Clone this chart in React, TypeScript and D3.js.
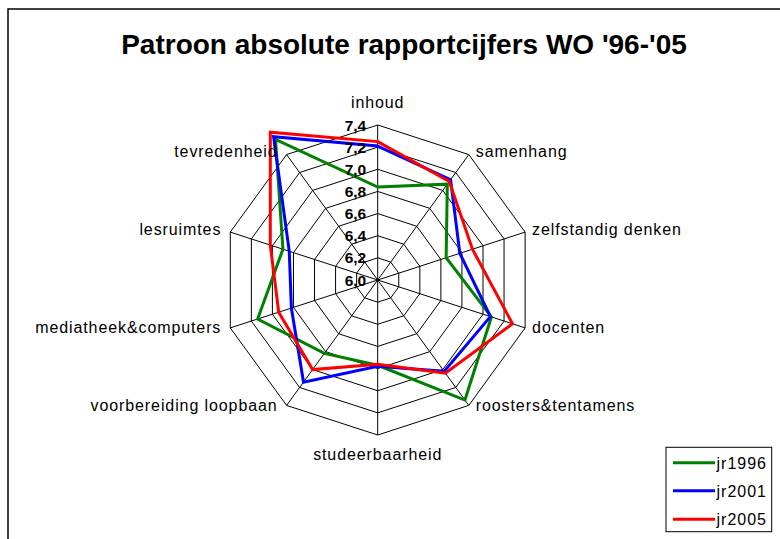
import React from "react";
import * as d3 from "d3";

const categories = [
  "inhoud",
  "samenhang",
  "zelfstandig denken",
  "docenten",
  "roosters&tentamens",
  "studeerbaarheid",
  "voorbereiding loopbaan",
  "mediatheek&computers",
  "lesruimtes",
  "tevredenheid",
];
const jr1996 = [6.84, 7.07, 6.65, 7.08, 7.34, 6.77, 6.82, 7.14, 6.9, 7.57];
const jr2001 = [7.21, 7.12, 6.78, 7.07, 7.02, 6.78, 7.14, 6.82, 6.84, 7.6];
const jr2005 = [7.25, 7.1, 6.9, 7.28, 7.04, 6.76, 7.0, 6.94, 7.02, 7.65];
const seriesNames = ["jr1996", "jr2001", "jr2005"];
const seriesColors = ["#008000", "#0000FF", "#FF0000"];
const tickValues = [6.0, 6.2, 6.4, 6.6, 6.8, 7.0, 7.2, 7.4];
const tickLabels = ["6,0", "6,2", "6,4", "6,6", "6,8", "7,0", "7,2", "7,4"];
const title = "Patroon absolute rapportcijfers WO '96-'05";

const FONT = "'Liberation Sans', Arial, sans-serif";

export default function App() {
  const W = 780;
  const H = 539;
  const cx = 377.7;
  const cy = 280;
  const R = 155;
  const n = categories.length;
  const r = d3.scaleLinear().domain([6.0, 7.4]).range([0, R]);
  const angle = d3
    .scaleLinear()
    .domain([0, n])
    .range([0, 2 * Math.PI]);

  const radial = d3
    .lineRadial<number>()
    .angle((_, i) => angle(i))
    .radius((d) => r(d))
    .curve(d3.curveLinearClosed);

  const ringLine = (v: number) =>
    d3
      .lineRadial<string>()
      .angle((_, i) => angle(i))
      .radius(() => r(v))
      .curve(d3.curveLinearClosed)(categories) || "";

  const series = [jr1996, jr2001, jr2005];

  const vertex = (i: number, v: number) => {
    const a = angle(i);
    return [cx + r(v) * Math.sin(a), cy - r(v) * Math.cos(a)];
  };

  return (
    <svg
      width={W}
      height={H}
      style={{ position: "absolute", left: 0, top: 0, background: "#fff" }}
    >
      <rect x={0} y={0} width={W} height={H} fill="#fff" />
      <rect
        x={8}
        y={9}
        width={900}
        height={700}
        fill="#fff"
        stroke="#000"
        strokeWidth={1.5}
      />
      <text
        x={404}
        y={54}
        textAnchor="middle"
        fontFamily={FONT}
        fontWeight="bold"
        fontSize={28}
      >
        {title}
      </text>

      <g transform={`translate(${cx},${cy})`}>
        {tickValues.slice(1).map((v) => (
          <path key={v} d={ringLine(v)} fill="none" stroke="#000" strokeWidth={1} />
        ))}
        {categories.map((c, i) => {
          const a = angle(i);
          return (
            <line
              key={c}
              x1={0}
              y1={0}
              x2={R * Math.sin(a)}
              y2={-R * Math.cos(a)}
              stroke="#000"
              strokeWidth={1}
            />
          );
        })}
        {series.map((s, k) => (
          <path
            key={seriesNames[k]}
            d={radial(s) || ""}
            fill="none"
            stroke={seriesColors[k]}
            strokeWidth={3}
            strokeLinejoin="miter"
          />
        ))}
      </g>

      {tickValues.map((v, i) => (
        <text
          key={v}
          x={cx - 11.5}
          y={cy - r(v) + 5.6}
          textAnchor="end"
          fontFamily={FONT}
          fontWeight="bold"
          fontSize={15.5}
        >
          {tickLabels[i]}
        </text>
      ))}

      {categories.map((c, i) => {
        const [x, y] = vertex(i, 7.4);
        const a = angle(i);
        let tx = x;
        let ty = y;
        let anchor: "start" | "middle" | "end" = "middle";
        if (i === 0) {
          ty = y - 17;
        } else if (i === n / 2) {
          ty = y + 24.5;
        } else if (Math.sin(a) > 0) {
          anchor = "start";
          tx = x + 7;
          ty = y + 4 - 2.5 * Math.cos(a);
        } else {
          anchor = "end";
          tx = x - 9;
          ty = y + 4 - 2.5 * Math.cos(a);
        }
        return (
          <text
            key={c}
            x={tx}
            y={ty}
            textAnchor={anchor}
            fontFamily={FONT}
            fontSize={16}
            letterSpacing={0.9}
          >
            {c}
          </text>
        );
      })}

      <rect
        x={666}
        y={447.3}
        width={105.7}
        height={84.4}
        fill="#fff"
        stroke="#000"
        strokeWidth={1}
      />
      {seriesNames.map((name, k) => {
        const ly = [462.7, 490.7, 519.3][k];
        return (
          <g key={name}>
            <line x1={673} x2={715} y1={ly} y2={ly} stroke={seriesColors[k]} strokeWidth={3} />
            <text
              x={716.5}
              y={ly + 5.8}
              fontFamily={FONT}
              fontSize={16}
              letterSpacing={1}
            >
              {name}
            </text>
          </g>
        );
      })}
    </svg>
  );
}
